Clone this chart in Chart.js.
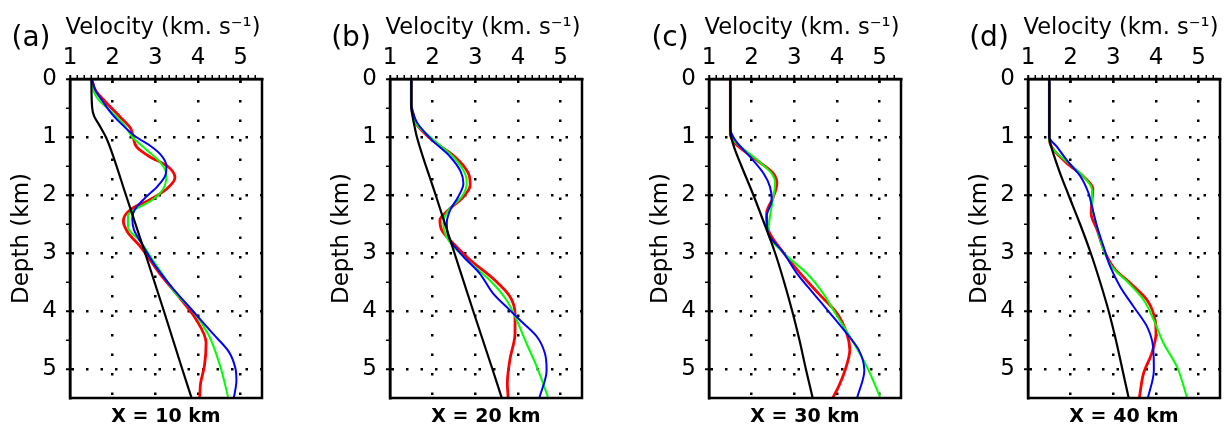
<!DOCTYPE html>
<html>
<head>
<meta charset="utf-8">
<title>Velocity profiles</title>
<script src="https://cdn.jsdelivr.net/npm/chart.js@4.4.1/dist/chart.umd.min.js"></script>
<style>
  html, body { margin: 0; padding: 0; background: #fff; }
  #wrap { position: relative; width: 1225px; height: 430px; overflow: hidden; }
  .panel { position: absolute; top: 0; width: 267px; height: 430px; }
</style>
</head>
<body>
<div id="wrap">
  <div class="panel" style="left:0px"><canvas id="chart-a"></canvas></div>
  <div class="panel" style="left:320px"><canvas id="chart-b"></canvas></div>
  <div class="panel" style="left:639px"><canvas id="chart-c"></canvas></div>
  <div class="panel" style="left:958px"><canvas id="chart-d"></canvas></div>
</div>
<script>
// tick labels
const velocityMajor = [1, 2, 3, 4, 5];
const depthMajor = [0, 1, 2, 3, 4, 5];
const panelLabels = ['(a)', '(b)', '(c)', '(d)'];
const distanceLabels = ['X = 10 km', 'X = 20 km', 'X = 30 km', 'X = 40 km'];
const velocityTitle = 'Velocity (km. s\u207B\u00B9)';

// profiles as [depth km, velocity km/s]
// panel (a) X = 10 km
const a_black = [[0,1.5],[0.5,1.52],[0.65,1.57],[0.8,1.69],[1.0,1.84],[1.2,1.95],[2,2.31],[3,2.76],[4,3.2],[5,3.63],[5.5,3.85]];
const a_blue  = [[0,1.51],[0.2,1.6],[0.4,1.78],[0.6,1.98],[0.8,2.24],[1.0,2.55],[1.15,2.88],[1.3,3.12],[1.5,3.26],[1.65,3.24],[1.85,3.05],[2.05,2.76],[2.25,2.52],[2.4,2.46],[2.6,2.5],[2.8,2.65],[3.2,2.98],[3.6,3.4],[4.0,3.88],[4.4,4.36],[4.7,4.72],[5.0,4.88],[5.2,4.9],[5.5,4.84]];
const a_green = [[0,1.51],[0.2,1.55],[0.35,1.66],[0.55,1.95],[0.8,2.28],[1.0,2.46],[1.22,2.79],[1.45,3.13],[1.65,3.26],[1.9,3.18],[2.1,2.9],[2.22,2.6],[2.35,2.36],[2.55,2.36],[2.8,2.65],[3.1,2.92],[3.4,3.2],[3.7,3.48],[4.0,3.88],[4.4,4.24],[4.95,4.52],[5.5,4.71]];
const a_red   = [[0,1.51],[0.2,1.6],[0.4,1.84],[0.65,2.17],[0.85,2.42],[1.0,2.48],[1.17,2.56],[1.34,2.87],[1.5,3.28],[1.7,3.46],[1.9,3.26],[2.08,2.87],[2.25,2.42],[2.45,2.25],[2.65,2.36],[2.88,2.64],[3.35,3.1],[3.8,3.6],[4.15,3.96],[4.55,4.19],[4.95,4.15],[5.25,4.06],[5.5,4.04]];

// panel (b) X = 20 km
const b_black = [[0,1.5],[0.5,1.5],[0.65,1.53],[0.8,1.57],[1,1.63],[2,2.07],[3,2.51],[4,2.95],[5,3.4],[5.5,3.62]];
const b_blue  = [[0,1.5],[0.45,1.5],[0.6,1.55],[0.76,1.64],[1.05,1.98],[1.34,2.41],[1.6,2.66],[1.8,2.72],[2.03,2.6],[2.26,2.41],[2.49,2.33],[2.78,2.41],[3.06,2.72],[3.35,3.1],[3.7,3.42],[3.98,3.8],[4.16,4.05],[4.44,4.44],[4.73,4.63],[5.02,4.67],[5.5,4.5]];
const b_green = [[0,1.5],[0.45,1.5],[0.6,1.54],[0.76,1.6],[1.05,2.02],[1.34,2.48],[1.63,2.76],[1.8,2.8],[2.03,2.68],[2.26,2.37],[2.49,2.25],[2.78,2.37],[3.12,2.8],[3.47,3.34],[3.81,3.73],[4.16,3.97],[4.56,4.2],[4.96,4.44],[5.5,4.71]];
const b_red   = [[0,1.5],[0.45,1.5],[0.6,1.54],[0.76,1.6],[1.05,1.98],[1.34,2.52],[1.63,2.84],[1.83,2.88],[2.03,2.72],[2.26,2.37],[2.43,2.17],[2.6,2.21],[2.78,2.41],[3.12,2.88],[3.47,3.46],[3.75,3.81],[4.04,3.93],[4.39,3.93],[4.84,3.81],[5.25,3.75],[5.5,3.77]];

// panel (c) X = 30 km
const c_black = [[0,1.5],[0.9,1.5],[1.0,1.52],[1.2,1.6],[1.5,1.76],[2,2.04],[2.5,2.3],[3,2.55],[3.5,2.76],[4,2.95],[4.5,3.12],[5,3.27],[5.5,3.43]];
const c_blue  = [[0,1.5],[0.85,1.5],[1.05,1.61],[1.34,1.96],[1.63,2.28],[1.86,2.43],[2.09,2.47],[2.37,2.35],[2.66,2.39],[3.0,2.75],[3.35,3.06],[3.7,3.45],[4.04,3.84],[4.39,4.23],[4.67,4.51],[5.02,4.64],[5.5,4.47]];
const c_green = [[0,1.5],[0.9,1.5],[1.05,1.57],[1.34,2.04],[1.63,2.47],[1.8,2.55],[2.03,2.51],[2.37,2.43],[2.66,2.39],[3.0,2.75],[3.35,3.29],[3.7,3.68],[4.04,3.96],[4.5,4.35],[4.96,4.7],[5.5,5.02]];
const c_red   = [[0,1.5],[0.95,1.5],[1.11,1.61],[1.4,2.12],[1.63,2.51],[1.8,2.59],[2.03,2.51],[2.32,2.35],[2.6,2.39],[3.0,2.75],[3.35,3.14],[3.7,3.57],[4.04,4.0],[4.39,4.23],[4.67,4.3],[5.02,4.19],[5.3,4.04],[5.5,3.9]];

// panel (d) X = 40 km
const d_black = [[0,1.5],[1,1.5],[1.1,1.52],[1.3,1.6],[1.6,1.74],[2,1.95],[2.5,2.22],[3,2.47],[3.5,2.69],[4,2.89],[4.5,3.06],[5,3.21],[5.5,3.36]];
const d_blue  = [[0,1.5],[1.0,1.5],[1.17,1.68],[1.4,1.91],[1.68,2.23],[1.97,2.42],[2.2,2.5],[2.55,2.62],[2.89,2.77],[3.24,2.93],[3.58,3.16],[3.93,3.48],[4.27,3.79],[4.61,3.93],[5.02,3.95],[5.5,3.81]];
const d_green = [[0,1.5],[1.05,1.5],[1.22,1.6],[1.45,1.95],[1.68,2.3],[1.91,2.5],[2.15,2.5],[2.55,2.62],[2.95,2.77],[3.24,2.97],[3.52,3.36],[3.81,3.71],[4.16,3.95],[4.56,4.18],[4.96,4.49],[5.5,4.73]];
const d_red   = [[0,1.5],[1.05,1.5],[1.22,1.6],[1.45,1.91],[1.68,2.3],[1.89,2.52],[2.09,2.5],[2.32,2.48],[2.6,2.62],[3.0,2.81],[3.29,3.05],[3.52,3.4],[3.81,3.79],[4.16,3.98],[4.39,4.0],[4.73,3.9],[5.07,3.71],[5.5,3.61]];

const panels = [
  [a_black, a_blue, a_green, a_red],
  [b_black, b_blue, b_green, b_red],
  [c_black, c_blue, c_green, c_red],
  [d_black, d_blue, d_green, d_red]
];

const lineColors = ['#000000', '#0000ff', '#00ff00', '#ff0000'];
const lineWidths = [2.2, 2, 2, 2.8];
const FONT = '"DejaVu Sans", sans-serif';

// box around the plot, inner half of the major ticks, panel letter, top title
const framePlugin = {
  id: 'frame',
  afterDatasetsDraw(chart, args, opts) {
    const { ctx, chartArea: a, scales: { x, y } } = chart;
    ctx.save();
    ctx.strokeStyle = '#000';
    ctx.lineWidth = 2.5;
    ctx.strokeRect(a.left, a.top, a.width, a.height);

    ctx.lineWidth = 2;
    ctx.beginPath();
    velocityMajor.forEach(v => {
      const px = x.getPixelForValue(v);
      ctx.moveTo(px, a.top);
      ctx.lineTo(px, a.top + 4);
    });
    depthMajor.forEach(d => {
      const py = y.getPixelForValue(d);
      ctx.moveTo(a.left, py);
      ctx.lineTo(a.left + 4, py);
    });
    ctx.stroke();

    ctx.fillStyle = '#000';
    ctx.textAlign = 'center';
    ctx.textBaseline = 'middle';
    ctx.font = '28px ' + FONT;
    ctx.fillText(opts.label, a.left - 39, 39);

    // axis title drawn here so the canvas does not squeeze it to the axis width
    ctx.textBaseline = 'alphabetic';
    ctx.font = '22.5px ' + FONT;
    ctx.fillText(velocityTitle, a.left + a.width / 2 - 3, 34);
    ctx.restore();
  }
};

const isMajor = v => Math.abs(v - Math.round(v)) < 1e-6;

function makeChart(id, idx) {
  const datasets = panels[idx].map((pts, i) => ({
    data: pts.map(([d, v]) => ({ x: v, y: d })),
    showLine: true,
    borderColor: lineColors[i],
    borderWidth: lineWidths[i],
    pointRadius: 0,
    pointHoverRadius: 0,
    cubicInterpolationMode: 'monotone',
    fill: false
  }));

  new Chart(document.getElementById(id), {
    type: 'scatter',
    data: { datasets },
    options: {
      indexAxis: 'y',
      responsive: true,
      maintainAspectRatio: false,
      animation: false,
      events: [],
      layout: { padding: { left: 0, right: 5, top: 0, bottom: 0 } },
      plugins: {
        legend: { display: false },
        tooltip: { enabled: false },
        title: {
          display: true,
          position: 'bottom',
          fullSize: false,
          text: distanceLabels[idx],
          color: '#000',
          font: { family: FONT, size: 19, weight: 'bold' },
          padding: { top: 8, bottom: 1.2 }
        },
        frame: { label: panelLabels[idx] }
      },
      scales: {
        x: {
          type: 'linear',
          position: 'top',
          min: 1,
          max: 5.5,
          afterBuildTicks: scale => {
            const t = [];
            for (let k = 0; k <= 26; k++) t.push({ value: 1 + k / 6 });
            scale.ticks = t;
          },
          afterFit: scale => { scale.height = 79; },
          ticks: {
            autoSkip: false,
            maxRotation: 0,
            padding: 3,
            color: '#000',
            font: { family: FONT, size: 23 },
            callback: v => (isMajor(v) ? String(Math.round(v)) : '')
          },
          grid: {
            drawOnChartArea: true,
            drawTicks: true,
            tickLength: 4,
            lineWidth: 2.5,
            color: c => (c.tick && isMajor(c.tick.value) && c.tick.value > 1.5 ? '#000' : 'rgba(0,0,0,0)'),
            tickColor: '#000',
            tickWidth: c => (c.tick && isMajor(c.tick.value) ? 2 : 1.5)
          },
          border: { display: true, color: '#000', width: 2.5, dash: [2.5, 17] },
          title: { display: false }
        },
        y: {
          type: 'linear',
          position: 'left',
          reverse: true,
          min: 0,
          max: 5.5,
          afterBuildTicks: scale => {
            const t = [];
            for (let k = 0; k <= 10; k++) t.push({ value: k * 0.5 });
            scale.ticks = t;
          },
          afterFit: scale => { scale.width = 70; },
          ticks: {
            autoSkip: false,
            padding: 9,
            color: '#000',
            font: { family: FONT, size: 23 },
            callback: v => (isMajor(v) ? String(Math.round(v)) : '')
          },
          grid: {
            drawOnChartArea: true,
            drawTicks: true,
            tickLength: 4,
            lineWidth: 2.5,
            color: c => (c.tick && isMajor(c.tick.value) && c.tick.value > 0.5 ? '#000' : 'rgba(0,0,0,0)'),
            tickColor: '#000',
            tickWidth: c => (c.tick && isMajor(c.tick.value) ? 2 : 1.5)
          },
          border: { display: true, color: '#000', width: 2.5, dash: [2.5, 12] },
          title: {
            display: true,
            text: 'Depth (km)',
            color: '#000',
            font: { family: FONT, size: 23 },
            padding: { top: 8, bottom: 0 }
          }
        }
      }
    },
    plugins: [framePlugin]
  });
}

['chart-a', 'chart-b', 'chart-c', 'chart-d'].forEach((id, i) => makeChart(id, i));
</script>
</body>
</html>
